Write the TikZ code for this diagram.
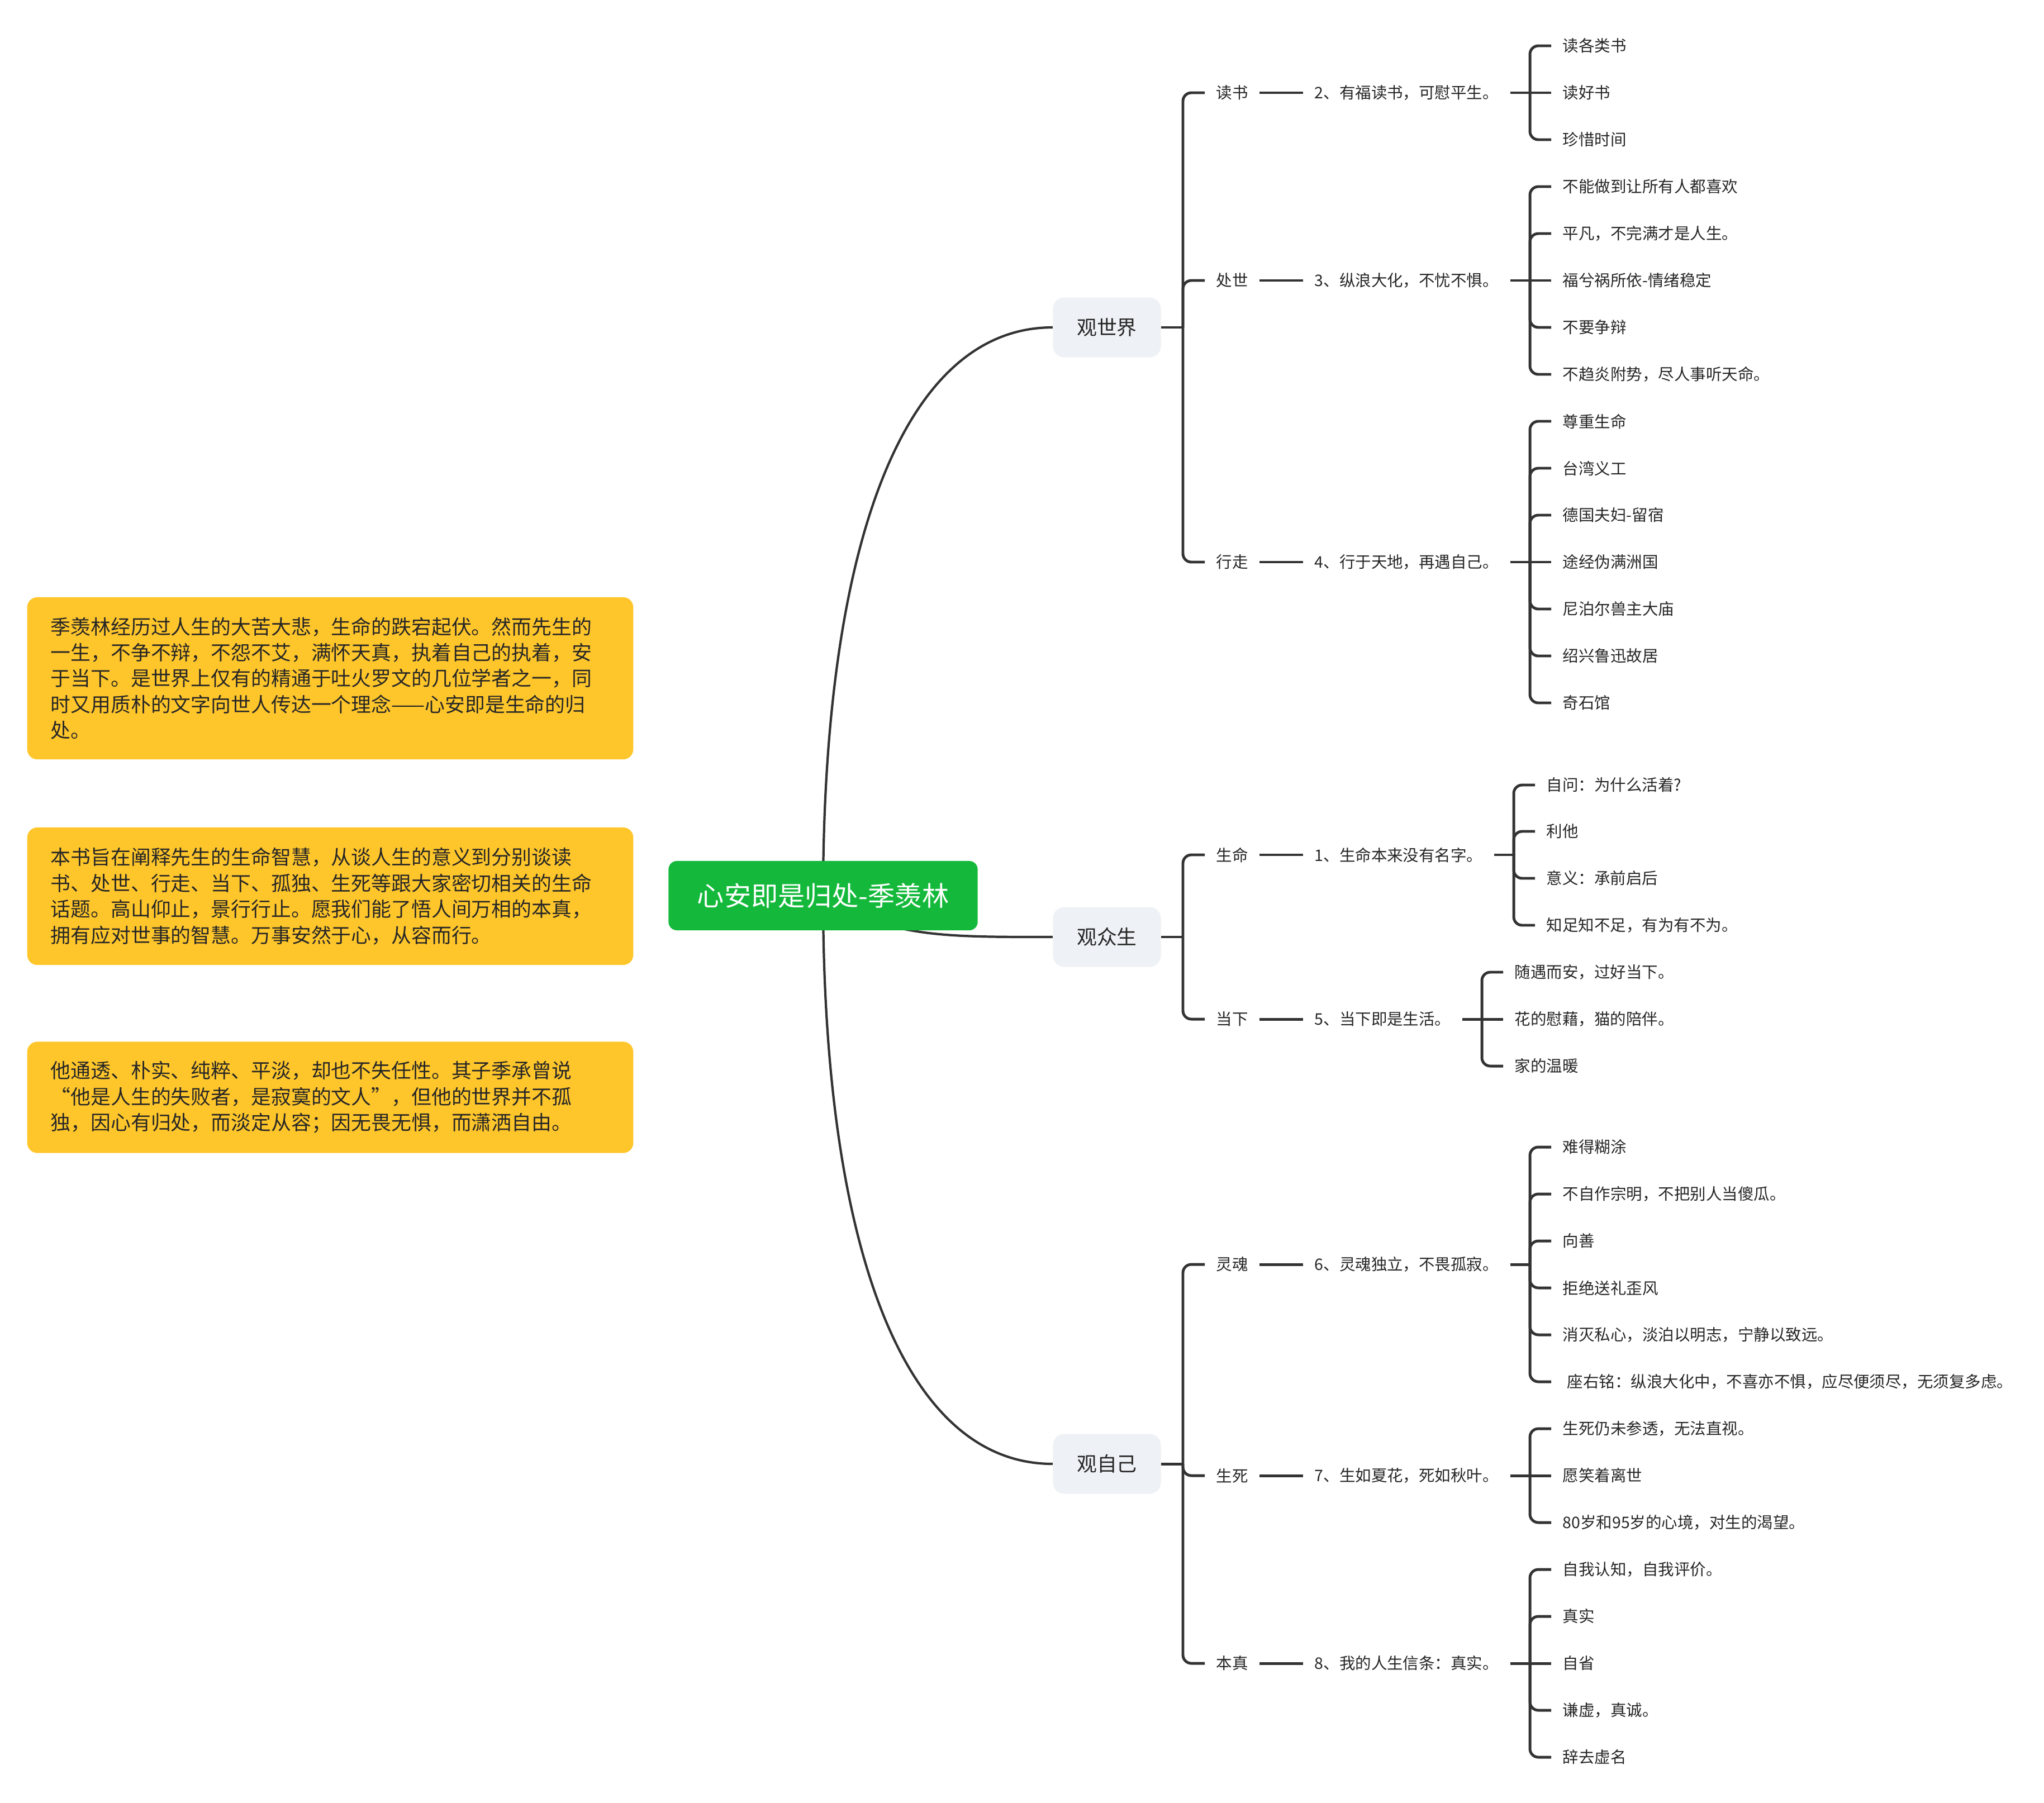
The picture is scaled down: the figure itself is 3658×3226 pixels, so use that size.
\documentclass[tikz,border=0pt]{standalone}
\usepackage{fontspec}
\setmainfont{Noto Sans CJK SC}
\usetikzlibrary{backgrounds}
\definecolor{rootgreen}{HTML}{14B93B}
\definecolor{viewgray}{HTML}{EEF1F5}
\definecolor{noteyellow}{HTML}{FFC62B}
\definecolor{linegray}{HTML}{333333}
\definecolor{textgray}{HTML}{262626}

\begin{document}
\begin{tikzpicture}[
    x=0.01cm, y=-0.01cm,
    root/.style={rectangle, fill=rootgreen, rounded corners=0.15cm, minimum width=5.53cm, minimum height=1.24cm, text=white, font=\fontsize{13.7pt}{16pt}\selectfont},
    view/.style={rectangle, fill=viewgray, rounded corners=0.2cm, minimum width=1.93cm, minimum height=1.07cm, text=textgray, font=\fontsize{10.2pt}{12pt}\selectfont},
    key/.style={anchor=west, inner xsep=0.2cm, text=textgray, font=\fontsize{8.1pt}{10pt}\selectfont},
    note/.style={rectangle, fill=noteyellow, rounded corners=0.18cm, anchor=west, text width=10cm, inner xsep=0.42cm, align=left, text=textgray, font=\fontsize{10.2pt}{13.2pt}\selectfont},
    link/.style={draw=linegray, line width=1.2pt},
    branch/.style={draw=linegray, line width=1.4pt, rounded corners=0.15cm},
    ]
    \useasboundingbox (0,0) rectangle (3658,3226);

    % Central topic
    \node[root] (root) at (1473,1603) {心安即是归处-季羡林};

    % Notes on the left
    \node[note, minimum height=2.9cm] (n1) at (48,1214) {季羡林经历过人生的大苦大悲，生命的跌宕起伏。然而先生的\\一生，不争不辩，不怨不艾，满怀天真，执着自己的执着，安\\于当下。是世界上仅有的精通于吐火罗文的几位学者之一，同\\时又用质朴的文字向世人传达一个理念——心安即是生命的归\\处。};
    \node[note, minimum height=2.46cm] (n2) at (48,1604) {本书旨在阐释先生的生命智慧，从谈人生的意义到分别谈读\\书、处世、行走、当下、孤独、生死等跟大家密切相关的生命\\话题。高山仰止，景行行止。愿我们能了悟人间万相的本真，\\拥有应对世事的智慧。万事安然于心，从容而行。};
    \node[note, minimum height=1.99cm] (n3) at (48,1964) {他通透、朴实、纯粹、平淡，却也不失任性。其子季承曾说\\“他是人生的失败者，是寂寞的文人”，但他的世界并不孤\\独，因心有归处，而淡定从容；因无畏无惧，而潇洒自由。};

    % Views
    \node[view] (v1) at (1981,586) {观世界};
    \node[view] (v2) at (1981,1677) {观众生};
    \node[view] (v3) at (1981,2620) {观自己};

    % Keywords
    \node[key] (k2) at (2156,166) {读书};
    \node[key] (k3) at (2156,502) {处世};
    \node[key] (k4) at (2156,1006) {行走};
    \node[key] (k1) at (2156,1530) {生命};
    \node[key] (k5) at (2156,1824) {当下};
    \node[key] (k6) at (2156,2263) {灵魂};
    \node[key] (k7) at (2156,2641) {生死};
    \node[key] (k8) at (2156,2977) {本真};

    % Chapters
    \node[key] (s2) at (2332,166) {2、有福读书，可慰平生。};
    \node[key] (s3) at (2332,502) {3、纵浪大化，不忧不惧。};
    \node[key] (s4) at (2332,1006) {4、行于天地，再遇自己。};
    \node[key] (s1) at (2332,1530) {1、生命本来没有名字。};
    \node[key] (s5) at (2332,1824) {5、当下即是生活。};
    \node[key] (s6) at (2332,2263) {6、灵魂独立，不畏孤寂。};
    \node[key] (s7) at (2332,2641) {7、生如夏花，死如秋叶。};
    \node[key] (s8) at (2332,2977) {8、我的人生信条：真实。};

    % Bracket joints
    \coordinate (bv1) at (2117,586);
    \coordinate (bv2) at (2117,1677);
    \coordinate (bv3) at (2117,2620);
    \coordinate (b2) at (2738,166);
    \coordinate (b3) at (2738,502);
    \coordinate (b4) at (2738,1006);
    \coordinate (b1) at (2709,1530);
    \coordinate (b5) at (2652,1824);
    \coordinate (b6) at (2738,2263);
    \coordinate (b7) at (2738,2641);
    \coordinate (b8) at (2738,2977);

    % Leaves - reading
    \node[key] (l2a) at (2776,82) {读各类书};
    \node[key] (l2b) at (2776,166) {读好书};
    \node[key] (l2c) at (2776,250) {珍惜时间};
    % Leaves - conduct
    \node[key] (l3a) at (2776,334) {不能做到让所有人都喜欢};
    \node[key] (l3b) at (2776,418) {平凡，不完满才是人生。};
    \node[key] (l3c) at (2776,502) {福兮祸所依-情绪稳定};
    \node[key] (l3d) at (2776,586) {不要争辩};
    \node[key] (l3e) at (2776,670) {不趋炎附势，尽人事听天命。};
    % Leaves - walking
    \node[key] (l4a) at (2776,754) {尊重生命};
    \node[key] (l4b) at (2776,838) {台湾义工};
    \node[key] (l4c) at (2776,922) {德国夫妇-留宿};
    \node[key] (l4d) at (2776,1006) {途经伪满洲国};
    \node[key] (l4e) at (2776,1090) {尼泊尔兽主大庙};
    \node[key] (l4f) at (2776,1174) {绍兴鲁迅故居};
    \node[key] (l4g) at (2776,1258) {奇石馆};
    % Leaves - life
    \node[key] (l1a) at (2747,1405) {自问：为什么活着?};
    \node[key] (l1b) at (2747,1488) {利他};
    \node[key] (l1c) at (2747,1572) {意义：承前启后};
    \node[key] (l1d) at (2747,1656) {知足知不足，有为有不为。};
    % Leaves - present
    \node[key] (l5a) at (2690,1740) {随遇而安，过好当下。};
    \node[key] (l5b) at (2690,1824) {花的慰藉，猫的陪伴。};
    \node[key] (l5c) at (2690,1908) {家的温暖};
    % Leaves - soul
    \node[key] (l6a) at (2776,2053) {难得糊涂};
    \node[key] (l6b) at (2776,2137) {不自作宗明，不把别人当傻瓜。};
    \node[key] (l6c) at (2776,2221) {向善};
    \node[key] (l6d) at (2776,2305) {拒绝送礼歪风};
    \node[key] (l6e) at (2776,2389) {消灭私心，淡泊以明志，宁静以致远。};
    \node[key] (l6f) at (2776,2473) {\hspace{0.08cm}座右铭：纵浪大化中，不喜亦不惧，应尽便须尽，无须复多虑。};
    % Leaves - life and death
    \node[key] (l7a) at (2776,2557) {生死仍未参透，无法直视。};
    \node[key] (l7b) at (2776,2641) {愿笑着离世};
    \node[key] (l7c) at (2776,2725) {80岁和95岁的心境，对生的渴望。};
    % Leaves - true self
    \node[key] (l8a) at (2776,2809) {自我认知，自我评价。};
    \node[key] (l8b) at (2776,2893) {真实};
    \node[key] (l8c) at (2776,2977) {自省};
    \node[key] (l8d) at (2776,3061) {谦虚，真诚。};
    \node[key] (l8e) at (2776,3145) {辞去虚名};

    \begin{pgfonlayer}{background}
    % Root to views
    \draw[link] (root.center) .. controls +(0,-620) and +(-270,0) .. (v1.west);
    \draw[link] (root.center) .. controls +(120,75) and +(-200,0) .. (v2.west);
    \draw[link] (root.center) .. controls +(0,620) and +(-270,0) .. (v3.west);

    % Views to keywords
    \draw[branch] (v1) -- (bv1);
    \draw[branch] (bv1) |- (k2.west);
    \draw[branch] (bv1) |- (k3.west);
    \draw[branch] (bv1) |- (k4.west);
    \draw[branch] (v2) -- (bv2);
    \draw[branch] (bv2) |- (k1.west);
    \draw[branch] (bv2) |- (k5.west);
    \draw[branch] (v3) -- (bv3);
    \draw[branch] (bv3) |- (k6.west);
    \draw[branch] (bv3) |- (k7.west);
    \draw[branch] (bv3) |- (k8.west);

    % Keywords to chapters
    \draw[branch] (k1) -- (s1);
    \draw[branch] (k2) -- (s2);
    \draw[branch] (k3) -- (s3);
    \draw[branch] (k4) -- (s4);
    \draw[branch] (k5) -- (s5);
    \draw[branch] (k6) -- (s6);
    \draw[branch] (k7) -- (s7);
    \draw[branch] (k8) -- (s8);

    % Chapters to leaves
    \draw[branch] (s2) -- (b2) -- (l2b);
    \draw[branch] (b2) |- (l2a.west);
    \draw[branch] (b2) |- (l2c.west);
    \draw[branch] (s3) -- (b3) -- (l3c);
    \draw[branch] (b3) |- (l3a.west);
    \draw[branch] (b3) |- (l3b.west);
    \draw[branch] (b3) |- (l3d.west);
    \draw[branch] (b3) |- (l3e.west);
    \draw[branch] (s4) -- (b4) -- (l4d);
    \draw[branch] (b4) |- (l4a.west);
    \draw[branch] (b4) |- (l4b.west);
    \draw[branch] (b4) |- (l4c.west);
    \draw[branch] (b4) |- (l4e.west);
    \draw[branch] (b4) |- (l4f.west);
    \draw[branch] (b4) |- (l4g.west);
    \draw[branch] (s1) -- (b1);
    \draw[branch] (b1) |- (l1a.west);
    \draw[branch] (b1) |- (l1b.west);
    \draw[branch] (b1) |- (l1c.west);
    \draw[branch] (b1) |- (l1d.west);
    \draw[branch] (s5) -- (b5) -- (l5b);
    \draw[branch] (b5) |- (l5a.west);
    \draw[branch] (b5) |- (l5c.west);
    \draw[branch] (s6) -- (b6);
    \draw[branch] (b6) |- (l6a.west);
    \draw[branch] (b6) |- (l6b.west);
    \draw[branch] (b6) |- (l6c.west);
    \draw[branch] (b6) |- (l6d.west);
    \draw[branch] (b6) |- (l6e.west);
    \draw[branch] (b6) |- (l6f.west);
    \draw[branch] (s7) -- (b7) -- (l7b);
    \draw[branch] (b7) |- (l7a.west);
    \draw[branch] (b7) |- (l7c.west);
    \draw[branch] (s8) -- (b8) -- (l8c);
    \draw[branch] (b8) |- (l8a.west);
    \draw[branch] (b8) |- (l8b.west);
    \draw[branch] (b8) |- (l8d.west);
    \draw[branch] (b8) |- (l8e.west);
    \end{pgfonlayer}

\end{tikzpicture}
\end{document}
